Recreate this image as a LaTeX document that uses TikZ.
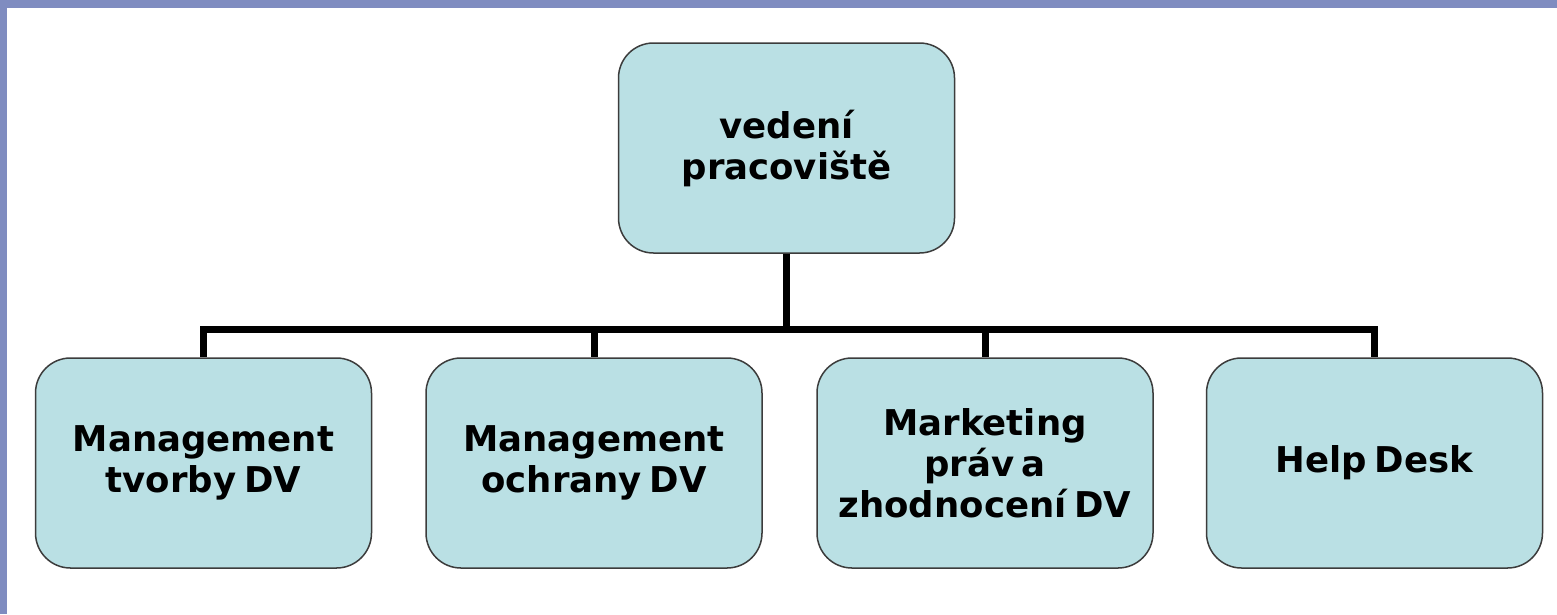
\documentclass[tikz,border=0pt]{standalone}
\usepackage{fontspec}
\setmainfont{DejaVu Sans}
\definecolor{strip}{RGB}{127,140,192}
\definecolor{boxfill}{RGB}{186,224,228}
\definecolor{boxline}{RGB}{60,60,60}
\newcommand{\orgfont}{\fontsize{35.5}{41}\selectfont\bfseries\spaceskip=0.22em plus 0.1em\relax}
\begin{document}
\begin{tikzpicture}[x=1pt,y=-1pt,
  orgbox/.style={draw=boxline, line width=1.5pt, fill=boxfill, rounded corners=35pt,
    minimum width=336pt, minimum height=210pt, inner sep=0pt, align=center,
    font=\orgfont},
  conn/.style={line width=7pt, draw=black, line join=miter}]
  \useasboundingbox (0,0) rectangle (1557,614);
  \fill[white] (0,0) rectangle (1557,614);
  \fill[strip] (0,0) rectangle (1557,8);
  \fill[strip] (0,0) rectangle (7,614);
  \coordinate (bus) at (789,329);
  \node[orgbox] (top) at (786.5,148) {vedení\\pracoviště};
  \node[orgbox] (c1) at (203.5,463) {Management\\tvorby DV};
  \node[orgbox] (c2) at (594,463) {Management\\ochrany DV};
  \node[orgbox] (c3) at (985,463) {Marketing\\práv a\\zhodnocení DV};
  \node[orgbox] (c4) at (1374.5,463) {Help Desk};
  \foreach \c in {c1,c2,c3,c4}{
    \draw[conn] (top.south) -- (top.south |- bus) -| (\c.north);
  }
\end{tikzpicture}
\end{document}
